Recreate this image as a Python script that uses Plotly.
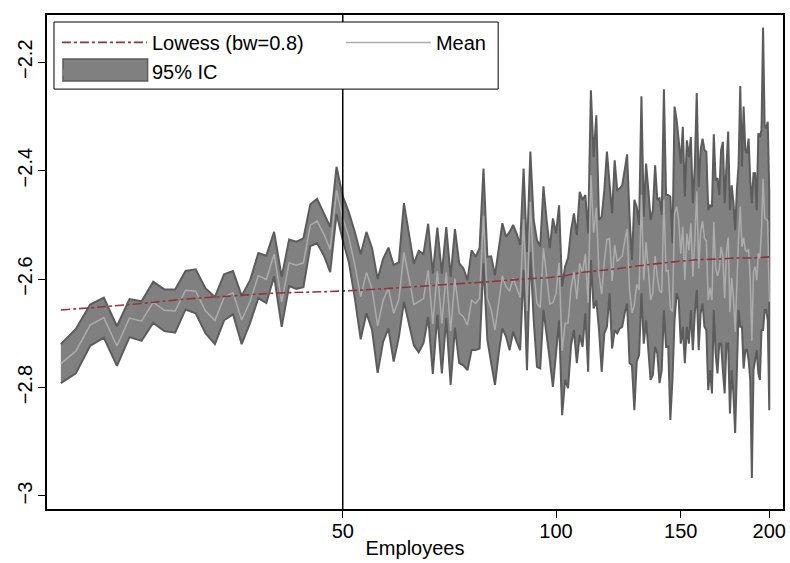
import plotly.graph_objects as go

# Employees 20..200
employees = list(range(20, 201))

ci_upper = [
    -2.720, -2.692, -2.647, -2.634, -2.687, -2.637, -2.641, -2.605, -2.619, -2.619,
    -2.585, -2.582, -2.617, -2.633, -2.591, -2.585, -2.631, -2.602, -2.552, -2.557,
    -2.513, -2.596, -2.527, -2.531, -2.525, -2.462, -2.452, -2.477, -2.504, -2.393,
    -2.447, -2.477, -2.513, -2.554, -2.513, -2.543, -2.600, -2.563, -2.542, -2.574,
    -2.569, -2.460, -2.515, -2.572, -2.548, -2.554, -2.498, -2.590, -2.505, -2.590,
    -2.504, -2.596, -2.508, -2.571, -2.580, -2.602, -2.547, -2.559, -2.543, -2.396,
    -2.559, -2.558, -2.593, -2.547, -2.497, -2.522, -2.513, -2.500, -2.516, -2.537,
    -2.396, -2.550, -2.365, -2.491, -2.528, -2.540, -2.429, -2.491, -2.543, -2.488,
    -2.516, -2.464, -2.614, -2.577, -2.561, -2.510, -2.479, -2.519, -2.439, -2.454,
    -2.445, -2.516, -2.252, -2.375, -2.298, -2.491, -2.485, -2.436, -2.365, -2.424,
    -2.479, -2.381, -2.436, -2.433, -2.427, -2.399, -2.370, -2.485, -2.565, -2.454,
    -2.467, -2.500, -2.263, -2.485, -2.387, -2.436, -2.491, -2.473, -2.390, -2.454,
    -2.451, -2.482, -2.250, -2.445, -2.445, -2.448, -2.534, -2.282, -2.307, -2.344,
    -2.387, -2.319, -2.448, -2.344, -2.375, -2.338, -2.460, -2.393, -2.257, -2.430,
    -2.362, -2.341, -2.362, -2.365, -2.473, -2.464, -2.467, -2.333, -2.418, -2.414,
    -2.445, -2.362, -2.347, -2.460, -2.381, -2.328, -2.473, -2.427, -2.458, -2.510,
    -2.436, -2.390, -2.244, -2.393, -2.282, -2.362, -2.368, -2.341, -2.418, -2.460,
    -2.405, -2.405, -2.473, -2.331, -2.338, -2.325, -2.136, -2.316, -2.322, -2.310,
    -2.442,
]

ci_lower = [
    -2.792, -2.774, -2.723, -2.708, -2.760, -2.707, -2.714, -2.681, -2.696, -2.699,
    -2.656, -2.663, -2.700, -2.720, -2.676, -2.665, -2.720, -2.681, -2.635, -2.644,
    -2.595, -2.688, -2.613, -2.618, -2.615, -2.539, -2.534, -2.556, -2.587, -2.480,
    -2.528, -2.569, -2.635, -2.711, -2.663, -2.694, -2.773, -2.716, -2.691, -2.752,
    -2.707, -2.642, -2.681, -2.722, -2.735, -2.718, -2.670, -2.775, -2.666, -2.774,
    -2.672, -2.795, -2.690, -2.755, -2.759, -2.768, -2.731, -2.731, -2.728, -2.571,
    -2.712, -2.755, -2.795, -2.737, -2.691, -2.706, -2.731, -2.697, -2.716, -2.731,
    -2.583, -2.768, -2.550, -2.676, -2.762, -2.765, -2.657, -2.706, -2.749, -2.799,
    -2.737, -2.676, -2.851, -2.786, -2.801, -2.722, -2.694, -2.755, -2.703, -2.725,
    -2.663, -2.771, -2.565, -2.654, -2.639, -2.694, -2.771, -2.700, -2.688, -2.626,
    -2.728, -2.694, -2.700, -2.691, -2.688, -2.663, -2.645, -2.755, -2.759, -2.842,
    -2.752, -2.740, -2.626, -2.719, -2.676, -2.731, -2.786, -2.777, -2.725, -2.737,
    -2.792, -2.768, -2.657, -2.725, -2.724, -2.860, -2.786, -2.676, -2.626, -2.639,
    -2.719, -2.688, -2.755, -2.688, -2.719, -2.657, -2.731, -2.663, -2.620, -2.731,
    -2.663, -2.645, -2.688, -2.694, -2.805, -2.768, -2.811, -2.657, -2.737, -2.774,
    -2.719, -2.719, -2.768, -2.811, -2.719, -2.719, -2.848, -2.768, -2.811, -2.884,
    -2.768, -2.657, -2.688, -2.688, -2.765, -2.731, -2.731, -2.749, -2.786, -2.967,
    -2.768, -2.749, -2.731, -2.774, -2.786, -2.694, -2.694, -2.657, -2.657, -2.676,
    -2.842,
]

# point estimate = centre of the 95% interval
mean_vals = [(u + l) / 2 for u, l in zip(ci_upper, ci_lower)]

lowess_x = [20, 25, 30, 35, 40, 45, 50, 60, 70, 80, 90, 100, 110, 120, 130,
            140, 150, 160, 170, 180, 190, 200]
lowess_y = [-2.657, -2.647, -2.637, -2.631, -2.626, -2.624, -2.622, -2.616,
            -2.610, -2.605, -2.600, -2.596, -2.587, -2.582, -2.576, -2.571,
            -2.567, -2.564, -2.563, -2.561, -2.561, -2.559]

x_ticks = [50, 100, 150, 200]
y_ticks = [-3.0, -2.8, -2.6, -2.4, -2.2]
y_tick_labels = ["\u22123", "\u22122.8", "\u22122.6", "\u22122.4", "\u22122.2"]
ref_line_x = 50

FONT = "Liberation Sans, Arial, Helvetica, sans-serif"
BAND_FILL = "rgb(128,128,128)"
BAND_EDGE = "rgb(92,92,92)"

band_x = employees + employees[::-1]
band_y = ci_upper + ci_lower[::-1]

fig = go.Figure()

# band fill (legend entry)
fig.add_trace(go.Scatter(
    x=band_x, y=band_y,
    fill="toself", fillcolor=BAND_FILL,
    line=dict(color=BAND_FILL, width=0),
    mode="lines", name="95% IC", legendrank=3, hoverinfo="skip",
))
# band outline
fig.add_trace(go.Scatter(
    x=band_x, y=band_y, mode="lines",
    line=dict(color=BAND_EDGE, width=2),
    showlegend=False, hoverinfo="skip",
))

fig.add_trace(go.Scatter(
    x=employees, y=mean_vals, mode="lines",
    line=dict(color="rgb(172,172,172)", width=1.5),
    name="Mean", legendrank=2,
))

fig.add_trace(go.Scatter(
    x=lowess_x, y=lowess_y, mode="lines", line_shape="spline",
    line=dict(color="rgb(144,53,59)", width=1.6, dash="dashdot"),
    name="Lowess (bw=0.8)", legendrank=1,
))

fig.add_shape(type="line", x0=ref_line_x, x1=ref_line_x, xref="x",
              y0=0, y1=1, yref="paper",
              line=dict(color="black", width=1.5), layer="above")

# opaque legend frame (legend entries drawn on top of it)
fig.add_shape(type="rect", xref="paper", yref="paper",
              x0=0.0095, x1=0.613, y0=0.850, y1=0.9858,
              fillcolor="white", line=dict(color="black", width=1),
              layer="above")
# taller swatch behind the native "95% IC" legend symbol
fig.add_shape(type="rect", xref="paper", yref="paper",
              x0=0.0217, x1=0.1367, y0=0.8664, y1=0.9109,
              fillcolor=BAND_FILL, line=dict(color=BAND_EDGE, width=1.5),
              layer="above")

fig.update_layout(
    width=790, height=563,
    margin=dict(l=47, r=4, t=15, b=54),
    paper_bgcolor="white", plot_bgcolor="white",
    font=dict(family=FONT, size=20, color="black"),
    showlegend=True,
    legend=dict(
        x=0.0135, y=0.984, xanchor="left", yanchor="top",
        orientation="h", itemwidth=85, entrywidth=184,
        bordercolor="black", borderwidth=0, bgcolor="rgba(0,0,0,0)",
        font=dict(family=FONT, size=20, color="black"),
        traceorder="normal",
    ),
    xaxis=dict(
        type="log", range=[1.2815, 2.3204],
        tickvals=x_ticks, ticktext=[str(v) for v in x_ticks],
        ticks="outside", ticklen=7, tickwidth=1.2, tickcolor="black",
        ticklabelstandoff=-4,
        showline=True, linecolor="black", linewidth=1.5, mirror=True,
        showgrid=False, zeroline=False,
        title=dict(text="Employees", standoff=0, font=dict(size=20)),
        tickfont=dict(size=20),
    ),
    yaxis=dict(
        range=[-3.024, -2.113],
        tickvals=y_ticks, ticktext=y_tick_labels, tickangle=-90,
        ticks="outside", ticklen=7, tickwidth=1.2, tickcolor="black",
        ticklabelstandoff=-2,
        showline=True, linecolor="black", linewidth=1.5, mirror=True,
        showgrid=False, zeroline=False,
        tickfont=dict(size=20),
    ),
)

fig.write_html("out.html")
